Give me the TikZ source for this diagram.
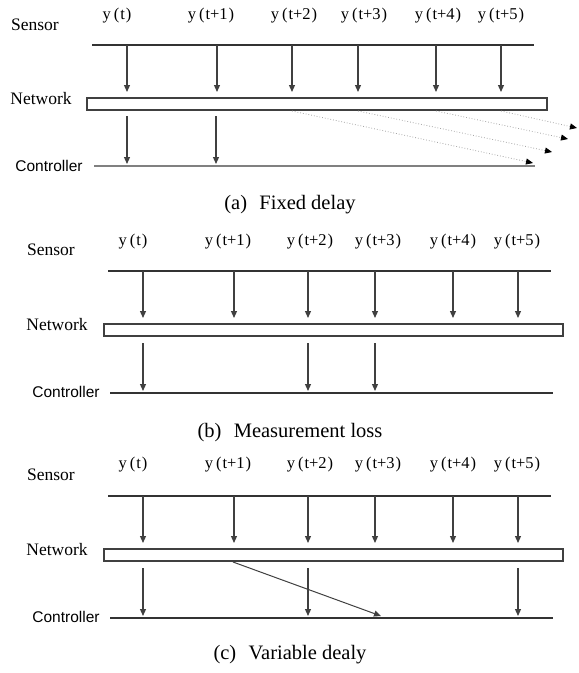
\documentclass[tikz,border=0pt]{standalone}
\usepackage{fontspec}
\setmainfont{Liberation Serif}
\newfontfamily\arialf{Liberation Sans}
\usetikzlibrary{arrows.meta}
\begin{document}
\begin{tikzpicture}[x=1pt,y=-1pt,
  lbl/.style={font=\rmfamily\fontsize{17.5}{20}\selectfont, inner sep=0pt},
  ylbl/.style={font=\rmfamily\fontsize{16.5}{19}\selectfont, inner sep=0pt},
  ctl/.style={font=\arialf\fontsize{15.5}{18}\selectfont, inner sep=0pt},
  captxt/.style={font=\rmfamily\fontsize{20.5}{24}\selectfont, inner sep=0pt},
  hline/.style={draw=black!80, line width=1.1pt},
  ctlineA/.style={draw=black!50, line width=1.8pt},
  sig/.style={-{Triangle[length=7pt,width=6pt]}, draw=black!75, line width=1.2pt},
  late/.style={-{Triangle[length=7pt,width=6pt,fill=black,color=black]}, draw=black!35, dotted, line width=0.8pt},
  netbox/.style={draw=black!75, line width=1.1pt, fill=white, inner sep=0pt, minimum height=12pt}
]
\useasboundingbox (0,0) rectangle (579,673);
\newcommand\ylab[1]{y\kern3pt(\kern1pt#1\kern1pt)}

%% ---------------- panel (a) ----------------
\node[lbl] (sensA) at (35,25) {Sensor};
\node[lbl] (netlA) at (41,99) {Network};
\node[ctl] (ctlA) at (49,166) {Controller};
\coordinate (sLa) at (92,45); \coordinate (sRa) at (534,45);
\draw[hline] (sLa) -- (sRa);
\node[netbox, minimum width=460pt] (netA) at (317,104) {};
\coordinate (cLa) at (94,166); \coordinate (cRa) at (535,166);
\draw[ctlineA] (cLa) -- (cRa);
\foreach \i/\x/\lx/\t in {1/127/117/t, 2/217/211/t+1, 3/292/294/t+2, 4/358/364/t+3, 5/436/438/t+4, 6/501/501/t+5} {
  \node[ylbl] (ya\i) at (\lx,16) {\ylab{\t}};
  \coordinate (aS\i) at (\x,45); \coordinate (aN\i) at (\x,92);
  \draw[sig] (aS\i) -- (aN\i);
}
\foreach \i/\x in {1/127, 2/216} {
  \coordinate (aL\i) at (\x,116); \coordinate (aC\i) at (\x,164);
  \draw[sig] (aL\i) -- (aC\i);
}
\foreach \i/\x/\ex/\ey in {1/292/533/163, 2/358/552/152, 3/436/568/139, 4/501/577/128} {
  \coordinate (dA\i) at (\x,111); \coordinate (dB\i) at (\ex,\ey);
  \draw[late] (dA\i) -- (dB\i);
}
\node[captxt] (capA) at (290,205) {(a)\hspace{0.6em}Fixed delay};

%% ---------------- panel (b) ----------------
\node[lbl] (sensB) at (51,250) {Sensor};
\node[lbl] (netlB) at (57,325) {Network};
\node[ctl] (ctlB) at (66,392) {Controller};
\coordinate (sLb) at (108,271); \coordinate (sRb) at (551,271);
\draw[hline] (sLb) -- (sRb);
\node[netbox, minimum width=459pt] (netB) at (333.5,330) {};
\coordinate (cLb) at (110,393); \coordinate (cRb) at (553,393);
\draw[hline] (cLb) -- (cRb);
\foreach \i/\x/\lx/\t in {1/143/133/t, 2/234/228/t+1, 3/308/310/t+2, 4/375/378/t+3, 5/453/453/t+4, 6/518/517/t+5} {
  \node[ylbl] (yb\i) at (\lx,242) {\ylab{\t}};
  \coordinate (bS\i) at (\x,271); \coordinate (bN\i) at (\x,318);
  \draw[sig] (bS\i) -- (bN\i);
}
\foreach \i/\x in {1/143, 2/308, 3/375} {
  \coordinate (bL\i) at (\x,343); \coordinate (bC\i) at (\x,391);
  \draw[sig] (bL\i) -- (bC\i);
}
\node[captxt] (capB) at (290,433) {(b)\hspace{0.6em}Measurement loss};

%% ---------------- panel (c) ----------------
\node[lbl] (sensC) at (51,475) {Sensor};
\node[lbl] (netlC) at (57,550) {Network};
\node[ctl] (ctlC) at (66,617) {Controller};
\coordinate (sLc) at (108,496); \coordinate (sRc) at (551,496);
\draw[hline] (sLc) -- (sRc);
\node[netbox, minimum width=459pt] (netC) at (333.5,555) {};
\coordinate (cLc) at (110,618); \coordinate (cRc) at (553,618);
\draw[hline] (cLc) -- (cRc);
\foreach \i/\x/\lx/\t in {1/143/133/t, 2/234/228/t+1, 3/308/310/t+2, 4/375/378/t+3, 5/453/453/t+4, 6/518/517/t+5} {
  \node[ylbl] (yc\i) at (\lx,465) {\ylab{\t}};
  \coordinate (cS\i) at (\x,496); \coordinate (cN\i) at (\x,543);
  \draw[sig] (cS\i) -- (cN\i);
}
\foreach \i/\x in {1/143, 2/308, 3/518} {
  \coordinate (cL\i) at (\x,568); \coordinate (cC\i) at (\x,616);
  \draw[sig] (cL\i) -- (cC\i);
}
\coordinate (dgA) at (233,562); \coordinate (dgB) at (381,616);
\draw[sig, line width=1pt] (dgA) -- (dgB);
\node[captxt] (capC) at (290,655) {(c)\hspace{0.6em}Variable dealy};
\end{tikzpicture}
\end{document}
